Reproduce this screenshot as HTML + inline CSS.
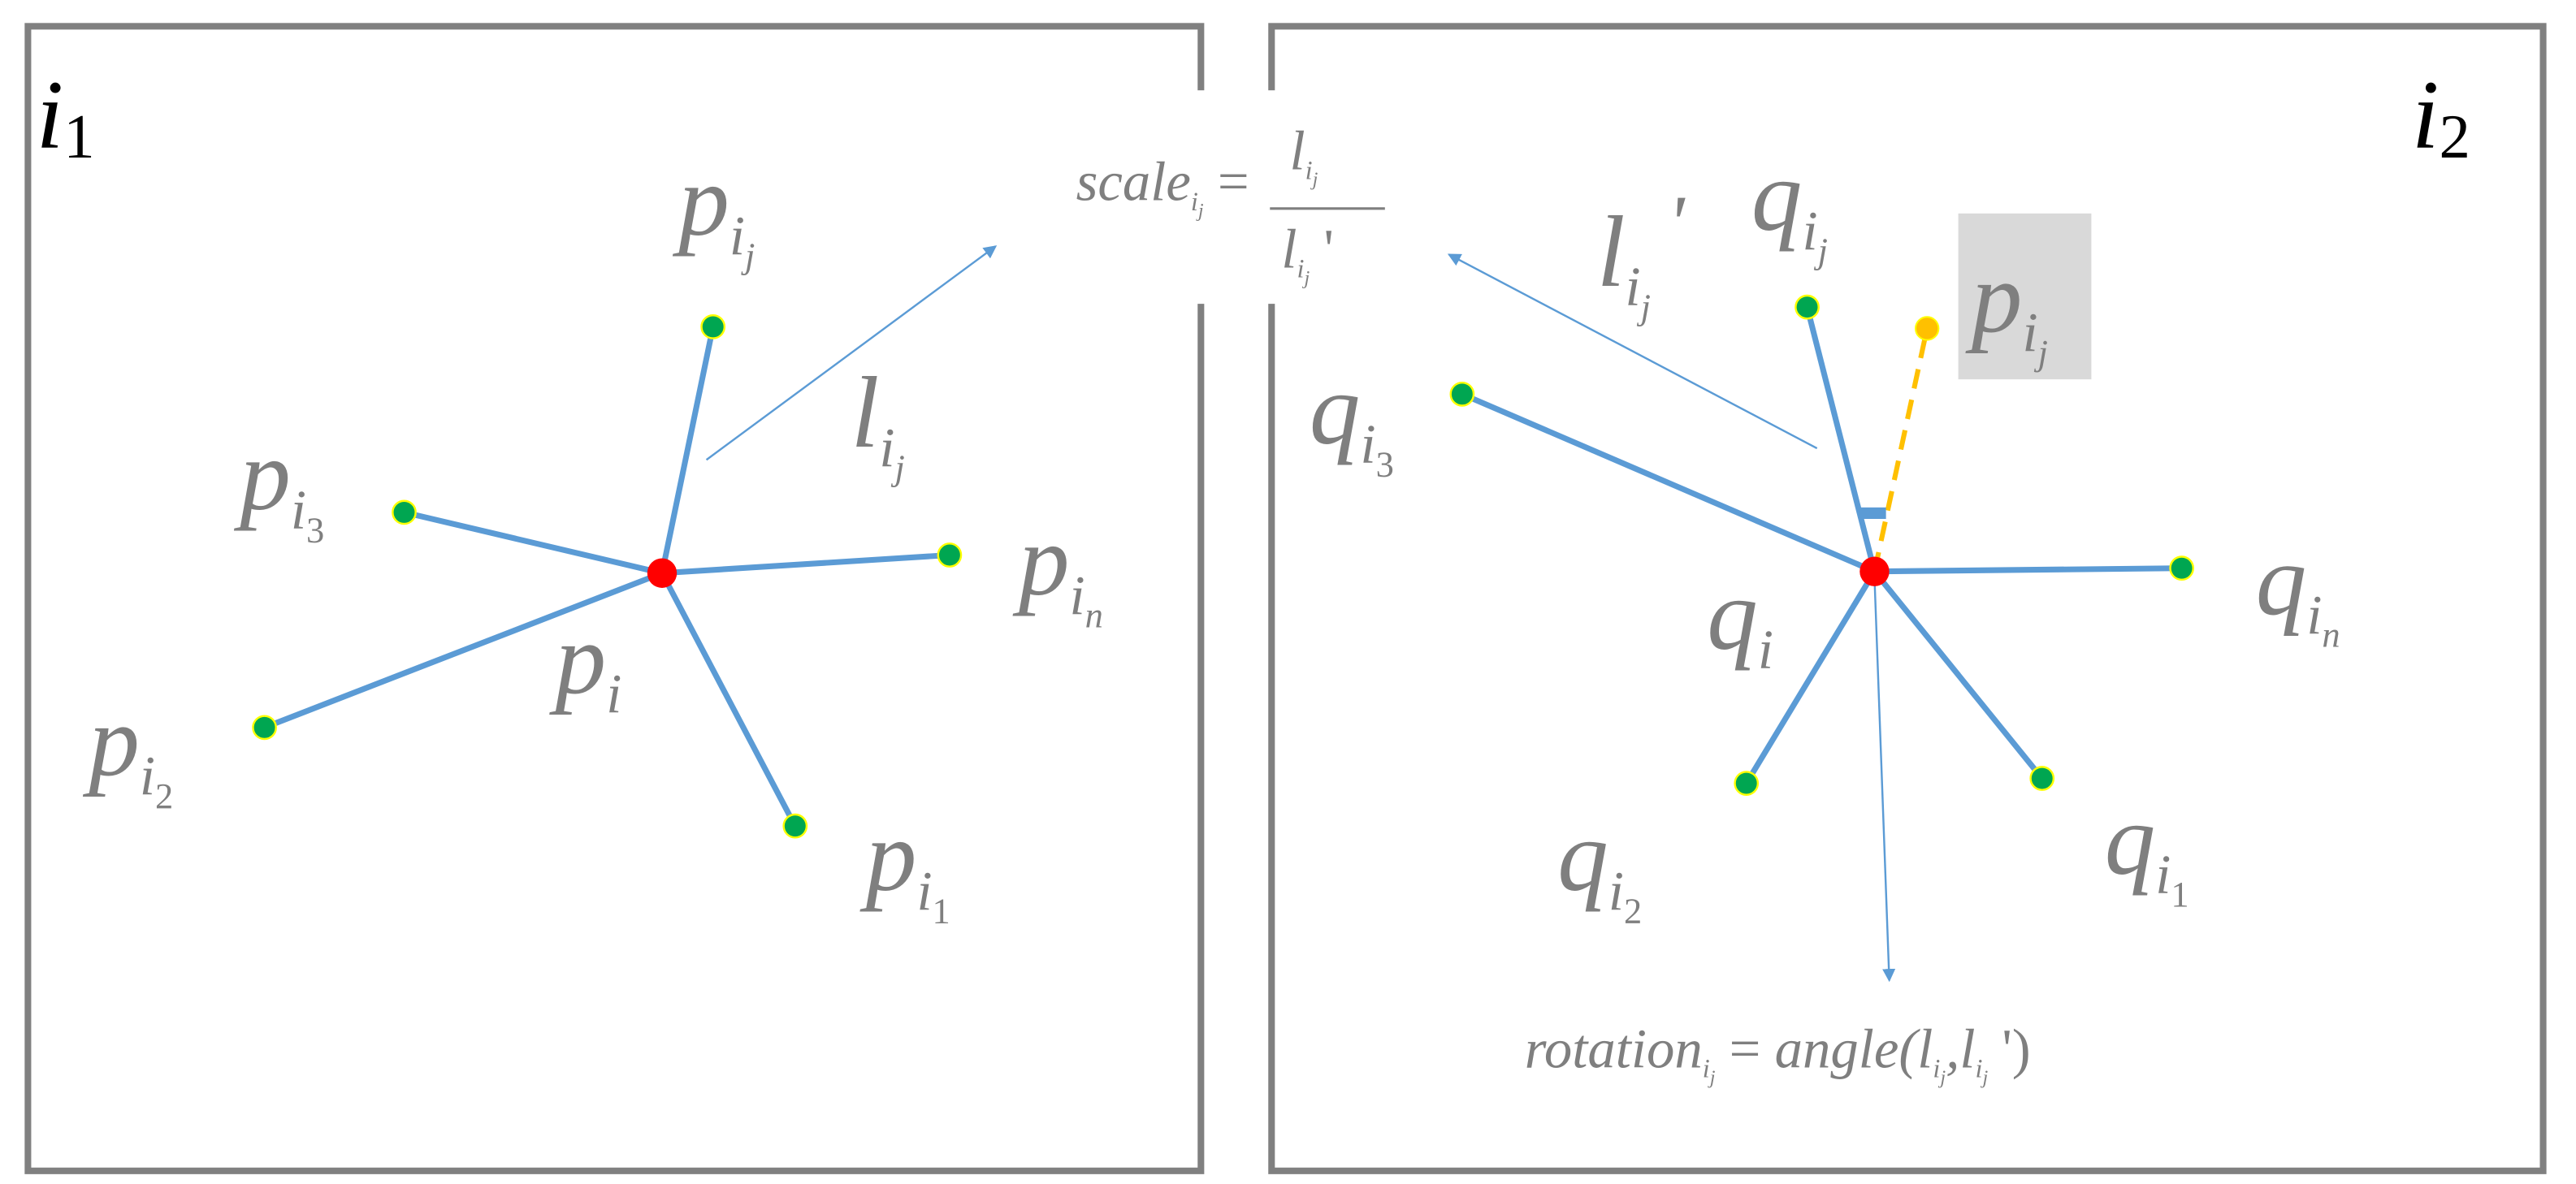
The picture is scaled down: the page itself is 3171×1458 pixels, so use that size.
<!DOCTYPE html>
<html><head><meta charset="utf-8"><style>
html,body{margin:0;padding:0;background:#fff}
svg{display:block}
text{font-family:"Liberation Serif","DejaVu Serif",serif;font-style:italic;fill:#7f7f7f}
.b{fill:#000}
</style></head><body>
<svg width="3171" height="1458" viewBox="0 0 1568 721" preserveAspectRatio="none" xmlns="http://www.w3.org/2000/svg" font-family="Liberation Serif, DejaVu Serif, serif">
<defs>
<marker id="ah" markerWidth="8" markerHeight="8" refX="7" refY="4" orient="auto" markerUnits="userSpaceOnUse">
<path d="M0,0 L8,4 L0,8 z" fill="#5b9bd5"/>
</marker>
</defs>
<rect x="17" y="16" width="714" height="697" fill="none" stroke="#808080" stroke-width="4"/>
<rect x="774" y="16" width="774" height="697" fill="none" stroke="#808080" stroke-width="4"/>
<rect x="650" y="55" width="200" height="130" fill="#fff"/>

<g stroke="#5b9bd5" stroke-width="3.5" fill="none">
<line x1="403" y1="349" x2="434" y2="199"/>
<line x1="403" y1="349" x2="246" y2="312"/>
<line x1="403" y1="349" x2="578" y2="338"/>
<line x1="403" y1="349" x2="161" y2="443"/>
<line x1="403" y1="349" x2="484" y2="503"/>
</g>
<line x1="430" y1="280" x2="606" y2="150" stroke="#5b9bd5" stroke-width="1.2" marker-end="url(#ah)"/>
<g fill="#00a651" stroke="#ffff00" stroke-width="1.2">
<circle cx="434" cy="199" r="7"/><circle cx="246" cy="312" r="7"/><circle cx="578" cy="338" r="7"/>
<circle cx="161" cy="443" r="7"/><circle cx="484" cy="503" r="7"/>
</g>
<circle cx="403" cy="349" r="9" fill="#ff0000"/>

<g stroke="#5b9bd5" stroke-width="3.5" fill="none">
<line x1="1141" y1="348" x2="1100" y2="187"/>
<line x1="1141" y1="348" x2="890" y2="240"/>
<line x1="1141" y1="348" x2="1328" y2="346"/>
<line x1="1141" y1="348" x2="1063" y2="477"/>
<line x1="1141" y1="348" x2="1243" y2="474"/>
</g>
<line x1="1141" y1="348" x2="1173" y2="200" stroke="#ffc000" stroke-width="3" stroke-dasharray="12,7"/>
<rect x="1132" y="309" width="16" height="7" fill="#5b9bd5"/>
<line x1="1106" y1="273" x2="882" y2="155" stroke="#5b9bd5" stroke-width="1.2" marker-end="url(#ah)"/>
<line x1="1141" y1="352" x2="1150" y2="597" stroke="#5b9bd5" stroke-width="1.2" marker-end="url(#ah)"/>
<g fill="#00a651" stroke="#ffff00" stroke-width="1.2">
<circle cx="1100" cy="187" r="7"/><circle cx="890" cy="240" r="7"/><circle cx="1328" cy="346" r="7"/>
<circle cx="1063" cy="477" r="7"/><circle cx="1243" cy="474" r="7"/>
</g>
<circle cx="1173" cy="200" r="7" fill="#ffc000" stroke="#ffff00" stroke-width="1"/>
<circle cx="1141" cy="348" r="9" fill="#ff0000"/>
<rect x="1192" y="130" width="81" height="101" fill="#d9d9d9"/>

<text class="b" x="22" y="90" font-size="60">i<tspan font-size="38" font-style="normal" class="b" dy="6">1</tspan></text>
<text x="413" y="143" font-size="62">p<tspan font-size="34" dy="12">i</tspan><tspan font-size="22" dy="8">j</tspan></text>
<text x="518" y="272" font-size="62">l<tspan font-size="34" dy="12">i</tspan><tspan font-size="22" dy="8">j</tspan></text>
<text x="146" y="310" font-size="62">p<tspan font-size="34" dy="12">i</tspan><tspan font-size="22" dy="8" font-style="normal">3</tspan></text>
<text x="620" y="362" font-size="62">p<tspan font-size="34" dy="12">i</tspan><tspan font-size="22" dy="8">n</tspan></text>
<text x="338" y="422" font-size="62">p<tspan font-size="34" dy="12">i</tspan></text>
<text x="54" y="472" font-size="62">p<tspan font-size="34" dy="12">i</tspan><tspan font-size="22" dy="8" font-style="normal">2</tspan></text>
<text x="527" y="542" font-size="62">p<tspan font-size="34" dy="12">i</tspan><tspan font-size="22" dy="8" font-style="normal">1</tspan></text>

<text x="655" y="122" font-size="34">scale<tspan font-size="16" dy="6">i</tspan><tspan font-size="12" dy="4">j</tspan><tspan font-style="normal" dy="-10"> =</tspan></text>
<text x="785" y="103" font-size="34">l<tspan font-size="16" dy="6">i</tspan><tspan font-size="12" dy="4">j</tspan></text>
<line x1="773" y1="127" x2="843" y2="127" stroke="#7f7f7f" stroke-width="1.5"/>
<text x="780" y="163" font-size="34">l<tspan font-size="16" dy="6">i</tspan><tspan font-size="12" dy="4">j</tspan><tspan dy="-10" font-style="normal"> '</tspan></text>

<text class="b" x="1468" y="90" font-size="60">i<tspan font-size="38" font-style="normal" class="b" dy="6">2</tspan></text>
<text x="972" y="174" font-size="62">l<tspan font-size="34" dy="12">i</tspan><tspan font-size="22" dy="8">j</tspan></text>
<text x="1015" y="152" font-size="48" font-style="normal">'</text>
<text x="1066" y="140" font-size="62">q<tspan font-size="34" dy="12">i</tspan><tspan font-size="22" dy="8">j</tspan></text>
<text x="1200" y="202" font-size="62">p<tspan font-size="34" dy="12">i</tspan><tspan font-size="22" dy="8">j</tspan></text>
<text x="797" y="270" font-size="62">q<tspan font-size="34" dy="12">i</tspan><tspan font-size="22" dy="8" font-style="normal">3</tspan></text>
<text x="1373" y="374" font-size="62">q<tspan font-size="34" dy="12">i</tspan><tspan font-size="22" dy="8">n</tspan></text>
<text x="1039" y="395" font-size="62">q<tspan font-size="34" dy="12">i</tspan></text>
<text x="948" y="542" font-size="62">q<tspan font-size="34" dy="12">i</tspan><tspan font-size="22" dy="8" font-style="normal">2</tspan></text>
<text x="1281" y="532" font-size="62">q<tspan font-size="34" dy="12">i</tspan><tspan font-size="22" dy="8" font-style="normal">1</tspan></text>

<text x="928" y="650" font-size="34">rotation<tspan font-size="16" dy="6">i</tspan><tspan font-size="12" dy="4">j</tspan><tspan dy="-10" font-style="normal"> = </tspan>angle(l<tspan font-size="16" dy="6">i</tspan><tspan font-size="12" dy="4">j</tspan><tspan dy="-10">,l</tspan><tspan font-size="16" dy="6">i</tspan><tspan font-size="12" dy="4">j</tspan><tspan dy="-10" font-style="normal"> ')</tspan></text>
</svg>
</body></html>
